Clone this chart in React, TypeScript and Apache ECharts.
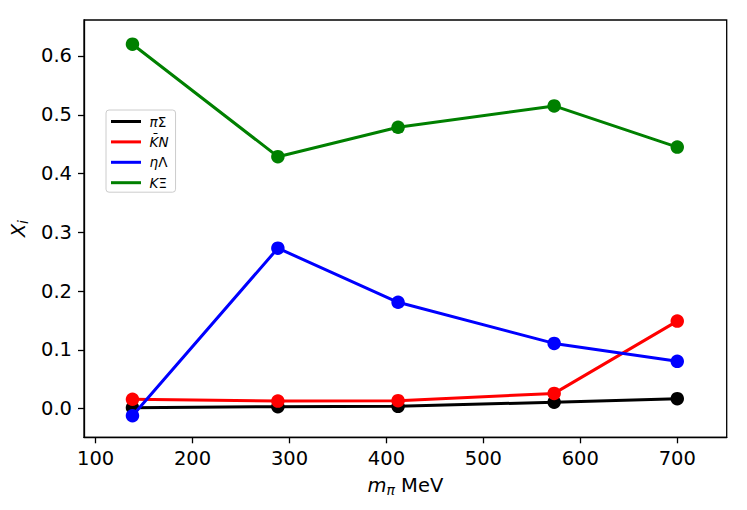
import React, { useEffect, useRef } from "react";
import * as echarts from "echarts";

const mPi = [138, 288, 412, 573, 700];
const piSigma = [0.0017, 0.0034, 0.004, 0.011, 0.017];
const kbarN = [0.016, 0.013, 0.0136, 0.026, 0.149];
const etaLambda = [-0.012, 0.273, 0.181, 0.111, 0.0806];
const kXi = [0.62, 0.4287, 0.4787, 0.515, 0.445];

const seriesNames = ["πΣ", "K\u0304N", "ηΛ", "KΞ"];
const seriesColors = ["#000000", "#ff0000", "#0000ff", "#008000"];
const seriesValues = [piSigma, kbarN, etaLambda, kXi];
const legendRich: Record<string, string> = {
  "πΣ": "{i|π}{u|Σ}",
  "K\u0304N": "{i|K\u0304N}",
  "ηΛ": "{i|η}{u|Λ}",
  "KΞ": "{i|K}{u|Ξ}",
};

const xTicks = [100, 200, 300, 400, 500, 600, 700];
const yTicks = [0, 0.1, 0.2, 0.3, 0.4, 0.5, 0.6];

const FONT = "DejaVu Sans";
const FS = 19.5;
const LFS = 13.5;

export default function App() {
  const ref = useRef<HTMLDivElement>(null);
  useEffect(() => {
    if (!ref.current) return;
    const chart = echarts.init(ref.current, undefined, { renderer: "svg" });
    const axisCommon = {
      axisLine: { show: true, onZero: false, lineStyle: { color: "#000", width: 1.3 } },
      axisTick: { show: true, length: 6, inside: false, lineStyle: { color: "#000", width: 1.3 } },
      splitLine: { show: false },
    };
    chart.setOption({
      animation: false,
      backgroundColor: "#fff",
      grid: {
        left: 84,
        top: 20,
        right: 20.3,
        bottom: 72.7,
        show: true,
        borderColor: "#000",
        borderWidth: 1.3,
        containLabel: false,
        outerBoundsMode: "none",
      },
      legend: {
        orient: "vertical",
        left: 106,
        top: 110,
        padding: [4, 7, 2, 5],
        itemWidth: 30,
        itemHeight: 3,
        itemGap: 5.4,
        icon: "rect",
        data: seriesNames,
        borderColor: "#cccccc",
        borderWidth: 1,
        borderRadius: 3,
        backgroundColor: "rgba(255,255,255,0.8)",
        selectedMode: false,
        formatter: (name: string) => legendRich[name] || name,
        textStyle: {
          fontFamily: FONT,
          fontSize: LFS,
          lineHeight: 15,
          color: "#000",
          padding: [0, 0, 0, 3.6],
          rich: {
            i: { fontFamily: FONT, fontStyle: "italic", fontSize: LFS, lineHeight: 15, color: "#000" },
            u: { fontFamily: FONT, fontSize: LFS, lineHeight: 15, color: "#000" },
          },
        },
      },
      xAxis: {
        type: "value",
        min: 88,
        max: 751,
        ...axisCommon,
        axisTick: { ...axisCommon.axisTick, customValues: xTicks },
        axisLabel: {
          customValues: xTicks,
          margin: 11,
          fontFamily: FONT,
          fontSize: FS,
          color: "#000",
          formatter: (v: number) => String(v),
        },
        name: "{m|m}{s|π}{n| MeV}",
        nameLocation: "middle",
        nameGap: 36,
        nameTextStyle: {
          fontFamily: FONT,
          fontSize: FS,
          color: "#000",
          rich: {
            m: { fontFamily: FONT, fontStyle: "italic", fontSize: FS, color: "#000" },
            s: { fontFamily: FONT, fontStyle: "italic", fontSize: 14, color: "#000", padding: [10, 0, 0, 0] },
            n: { fontFamily: FONT, fontSize: FS, color: "#000" },
          },
        },
      },
      yAxis: {
        type: "value",
        min: -0.0487,
        max: 0.6612,
        ...axisCommon,
        axisTick: { ...axisCommon.axisTick, customValues: yTicks },
        axisLabel: {
          customValues: yTicks,
          margin: 12,
          fontFamily: FONT,
          fontSize: FS,
          color: "#000",
          formatter: (v: number) => v.toFixed(1),
        },
        name: "{x|X}{s|i}",
        nameLocation: "middle",
        nameGap: 50,
        nameRotate: 90,
        nameTextStyle: {
          fontFamily: FONT,
          fontSize: FS,
          color: "#000",
          rich: {
            x: { fontFamily: FONT, fontStyle: "italic", fontSize: FS, color: "#000" },
            s: { fontFamily: FONT, fontStyle: "italic", fontSize: 14, color: "#000", padding: [10, 0, 0, 0] },
          },
        },
      },
      series: seriesNames.map((name, k) => ({
        name,
        type: "line",
        data: mPi.map((x, j) => [x, seriesValues[k][j]]),
        symbol: "circle",
        symbolSize: 13.5,
        showSymbol: true,
        color: seriesColors[k],
        itemStyle: { color: seriesColors[k] },
        lineStyle: { color: seriesColors[k], width: 3 },
        z: 2 + k,
        emphasis: { disabled: true },
      })),
    });
    return () => chart.dispose();
  }, []);
  return (
    <div
      ref={ref}
      style={{ position: "absolute", left: 0, top: 0, width: 747, height: 510 }}
    />
  );
}
